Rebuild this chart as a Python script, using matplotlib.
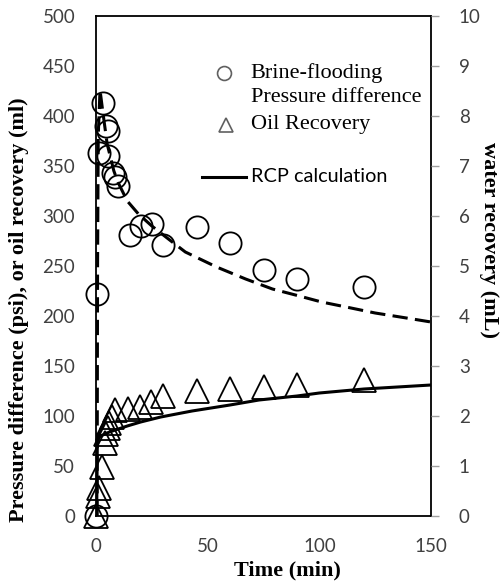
import matplotlib
matplotlib.use("Agg")
import matplotlib.pyplot as plt

# 圧力差 (psi)
dp_time = [0, 0.3, 1.3, 3.0, 4.5, 5.2, 5.5, 7.4, 8.5, 10, 15, 20, 25, 30, 45, 60, 75, 90, 120]
dp_value = [0, 222, 363, 413, 390, 385, 360, 343, 339, 330, 281, 290, 292, 271, 289, 273, 246, 237, 229]

# 油回収量 (ml)
oil_time = [0, 1.0, 1.5, 2.5, 4.0, 4.5, 5.5, 6.0, 7.0, 8.5, 14.5, 19.5, 24.5, 30, 45, 60, 75, 90, 120]
oil_value = [0, 20, 28, 49, 73, 82, 88, 93, 99, 106, 107, 109, 114, 120, 125, 127, 129, 131, 136]

# 計算曲線
fit_dp_time = [0.5, 0.7, 1.0, 1.8, 3, 5, 8, 10, 14, 19, 25, 33, 40, 54, 67, 79, 91, 101, 112, 125, 139, 150]
fit_dp_value = [0, 250, 380, 426, 405, 372, 345, 333, 315, 302, 290, 276, 264, 249, 237, 227, 220, 214, 209, 203, 198, 194]
rcp_time = [0.3, 0.6, 2, 6, 14, 20, 29, 43, 60, 73, 90, 100, 120, 135, 150]
rcp_value = [0, 76, 80, 84, 90, 94, 99, 105, 111, 116, 120, 123, 127, 129, 131]

x_ticks = [0, 50, 100, 150]
left_ticks = list(range(0, 501, 50))
right_ticks = list(range(0, 11))

tick_color = "#404040"
serif = ["Liberation Serif", "DejaVu Serif"]
sans = ["Lato", "DejaVu Sans"]

fig = plt.figure(figsize=(5.01, 5.82), dpi=100)
ax = fig.add_axes([96 / 501, 1 - 516 / 582, 335 / 501, 500 / 582])

ax.plot(fit_dp_time, fit_dp_value, color="black", lw=2.2, dashes=(5, 2.4), zorder=2)
ax.plot(rcp_time, rcp_value, color="black", lw=2.2, zorder=2)
ax.plot(dp_time, dp_value, "o", ms=16, mfc="none", mec="black", mew=1.3,
        clip_on=False, zorder=3)
ax.plot(oil_time, oil_value, "^", ms=17, mfc="none", mec="black", mew=1.3,
        clip_on=False, zorder=3)

ax.set_xlim(0, 150)
ax.set_ylim(0, 500)
ax.set_xticks(x_ticks)
ax.set_yticks(left_ticks)
ax.tick_params(axis="both", length=0, labelsize=13.5, labelcolor=tick_color)
ax.tick_params(axis="y", pad=15)
ax.tick_params(axis="x", pad=16)
for lab in ax.get_xticklabels() + ax.get_yticklabels():
    lab.set_family(sans)
for sp in ax.spines.values():
    sp.set_linewidth(1.3)
    sp.set_color("black")

ax2 = ax.twinx()
ax2.set_ylim(0, 10)
ax2.set_yticks(right_ticks)
ax2.tick_params(axis="y", direction="out", length=6, width=1, color="#a0a0a0",
                labelsize=13.5, labelcolor=tick_color, pad=14)
for lab in ax2.get_yticklabels():
    lab.set_family(sans)
for sp in ax2.spines.values():
    sp.set_visible(False)

# 凡例
ax.plot([0.382], [0.886], "o", ms=10, mfc="none", mec="#606060", mew=1.2,
        transform=ax.transAxes)
ax.plot([0.388], [0.782], "^", ms=10, mfc="none", mec="#606060", mew=1.2,
        transform=ax.transAxes)
ax.plot([0.316, 0.447], [0.678, 0.678], color="black", lw=2.2, transform=ax.transAxes)
ax.text(0.462, 0.886, "Brine-flooding", transform=ax.transAxes, fontsize=16,
        family=serif, va="center", ha="left")
ax.text(0.462, 0.836, "Pressure difference", transform=ax.transAxes, fontsize=16,
        family=serif, va="center", ha="left")
ax.text(0.462, 0.782, "Oil Recovery", transform=ax.transAxes, fontsize=16,
        family=serif, va="center", ha="left")
ax.text(0.462, 0.678, "RCP calculation", transform=ax.transAxes, fontsize=14.3,
        family=sans, va="center", ha="left")

# 軸タイトル
fig.text(287 / 501, 1 - 570 / 582, "Time (min)", fontsize=16, family=serif,
         fontweight="bold", ha="center", va="center")
fig.text(19 / 501, 1 - 310 / 582, "Pressure difference (psi), or oil recovery (ml)",
         fontsize=16, family=serif, fontweight="bold", rotation=90,
         ha="center", va="center")
fig.text(489 / 501, 1 - 240 / 582, "water recovery (mL)", fontsize=16,
         family=serif, fontweight="bold", rotation=-90, ha="center", va="center")

fig.savefig("out.png", dpi=100)
